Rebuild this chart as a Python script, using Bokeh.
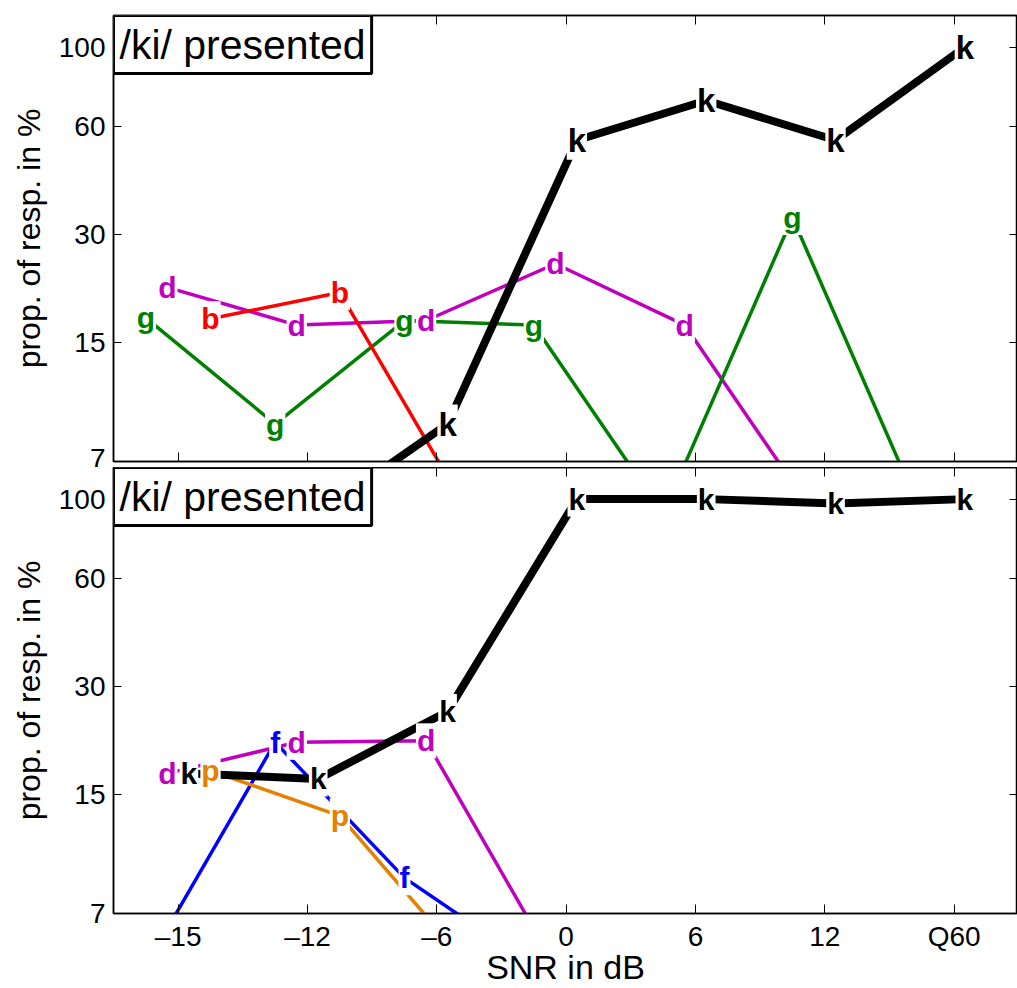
from bokeh.plotting import figure
from bokeh.layouts import column
from bokeh.models import Range1d, LogAxis, LinearAxis, FixedTicker, Label
from bokeh.core.properties import value
from bokeh.embed import file_html
from bokeh.resources import INLINE

# ---- data -------------------------------------------------------------
x_labels = ["\u201315", "\u201312", "\u20136", "0", "6", "12", "Q60"]
y_ticks = [7, 15, 30, 60, 100]
title_text = "/ki/ presented"

# upper panel (values in %, 5 = below visible range)
up_k = [5, 5, 8.9, 55, 71, 55, 100]
up_d = [21.4, 16.8, 17.3, 24.9, 16.8, 5, 5]
up_g = [17.6, 8.9, 17.3, 16.8, 5, 33.5, 5]
up_b = [17.5, 20.7, 5, 5, 5, 5, 5]

# lower panel
lo_k = [17.2, 16.6, 25.6, 100, 100, 97.2, 100]
lo_d = [17.2, 21.0, 21.2, 5, 5, 5, 5]
lo_f = [5, 21.0, 8.8, 5, 5, 5, 5]
lo_p = [17.5, 13.1, 5, 5, 5, 5, 5]

# slot offsets for the four response letters within a category
slot = {"g": -0.25, "f": -0.25, "d": -0.083, "k": 0.083, "b": 0.25, "p": 0.25}
colors = {"k": "black", "d": "#BF00BF", "g": "#008000", "b": "#FF0000",
          "f": "#0000FF", "p": "#E68000"}

FONT = "Liberation Sans"
Y_MIN, Y_MAX = 7, 122.5


def make_panel(series, bottom):
    p = figure(width=1017, height=(521 if bottom else 467),
               y_axis_type="log",
               x_range=Range1d(-0.5, 6.49), y_range=Range1d(Y_MIN, Y_MAX),
               output_backend="svg", toolbar_location=None,
               min_border_left=113, min_border_right=0,
               min_border_top=(0 if bottom else 15),
               min_border_bottom=(75 if bottom else 6),
               background_fill_color="white", border_fill_color="white")
    p.grid.visible = False
    p.outline_line_color = "black"
    p.outline_line_width = 1.5

    idx = list(range(len(x_labels)))
    # lines first (k on top), then letters
    for letter, vals in series:
        xs = [i + slot[letter] for i in idx]
        lw = 8 if letter == "k" else 3.5
        p.line(xs, vals, line_color=colors[letter], line_width=lw)
    for letter, vals in series:
        pts = [(i + slot[letter], v) for i, v in zip(idx, vals)
               if Y_MIN <= v <= Y_MAX]
        xs = [a for a, _ in pts]
        ys = [b for _, b in pts]
        fs = "33px" if (letter == "k" and not bottom) else "30px"
        p.text(x=xs, y=ys, text=[letter] * len(xs),
               text_color=colors[letter], text_font=value(FONT),
               text_font_style="bold", text_font_size=fs,
               text_align="center", text_baseline="middle",
               background_fill_color="white", padding=1)

    # x axis (below)
    xa = p.xaxis[0]
    xa.ticker = FixedTicker(ticks=idx)
    xa.major_tick_in = 9
    xa.major_tick_out = 0
    xa.minor_tick_line_color = None
    xa.axis_line_width = 1.5
    xa.major_tick_line_width = 1
    if bottom:
        xa.major_label_overrides = {i: lab for i, lab in zip(idx, x_labels)}
        xa.major_label_text_font = FONT
        xa.major_label_text_font_size = "28px"
        xa.major_label_text_color = "black"
        xa.major_label_standoff = 7
        xa.axis_label = "SNR in dB"
        xa.axis_label_text_font = FONT
        xa.axis_label_text_font_size = "34px"
        xa.axis_label_text_font_style = "normal"
        xa.axis_label_text_color = "black"
        xa.axis_label_standoff = -7
    else:
        xa.major_label_text_font_size = "1px"
        xa.major_label_text_color = None
        xa.major_label_standoff = 0

    # y axis (left)
    ya = p.yaxis[0]
    ya.ticker = FixedTicker(ticks=y_ticks)
    ya.major_label_overrides = {t: str(t) for t in y_ticks}
    ya.major_tick_in = 8
    ya.major_tick_out = 0
    ya.minor_tick_line_color = None
    ya.axis_line_width = 1.5
    ya.major_label_text_font = FONT
    ya.major_label_text_font_size = "28px"
    ya.major_label_text_color = "black"
    ya.major_label_standoff = 8
    ya.axis_label = "prop. of resp. in %"
    ya.axis_label_text_font = FONT
    ya.axis_label_text_font_size = "32px"
    ya.axis_label_text_font_style = "normal"
    ya.axis_label_text_color = "black"
    ya.axis_label_standoff = 9

    # top and right tick-only axes
    top = LinearAxis(ticker=FixedTicker(ticks=idx), major_tick_in=9,
                     major_tick_out=0, minor_tick_line_color=None,
                     major_label_text_font_size="1px",
                     major_label_text_color=None, major_label_standoff=0,
                     axis_line_width=1.5)
    p.add_layout(top, "above")
    right = LogAxis(ticker=FixedTicker(ticks=y_ticks), major_tick_in=8,
                    major_tick_out=0, minor_tick_line_color=None,
                    major_label_text_font_size="1px",
                    major_label_text_color=None, major_label_standoff=0,
                    axis_line_width=1.5)
    p.add_layout(right, "right")

    lab = Label(x=-0.5, y=Y_MAX, text=title_text, text_font=FONT,
                text_font_size="41px", text_color="black",
                text_align="left", text_baseline="top",
                background_fill_color="white", border_line_color="black",
                border_line_width=3, padding=6)
    p.add_layout(lab)
    return p


p1 = make_panel([("d", up_d), ("g", up_g), ("b", up_b), ("k", up_k)], False)
p2 = make_panel([("d", lo_d), ("f", lo_f), ("p", lo_p), ("k", lo_k)], True)

layout = column(p1, p2, spacing=0)
open("out.html", "w").write(file_html(layout, INLINE))
